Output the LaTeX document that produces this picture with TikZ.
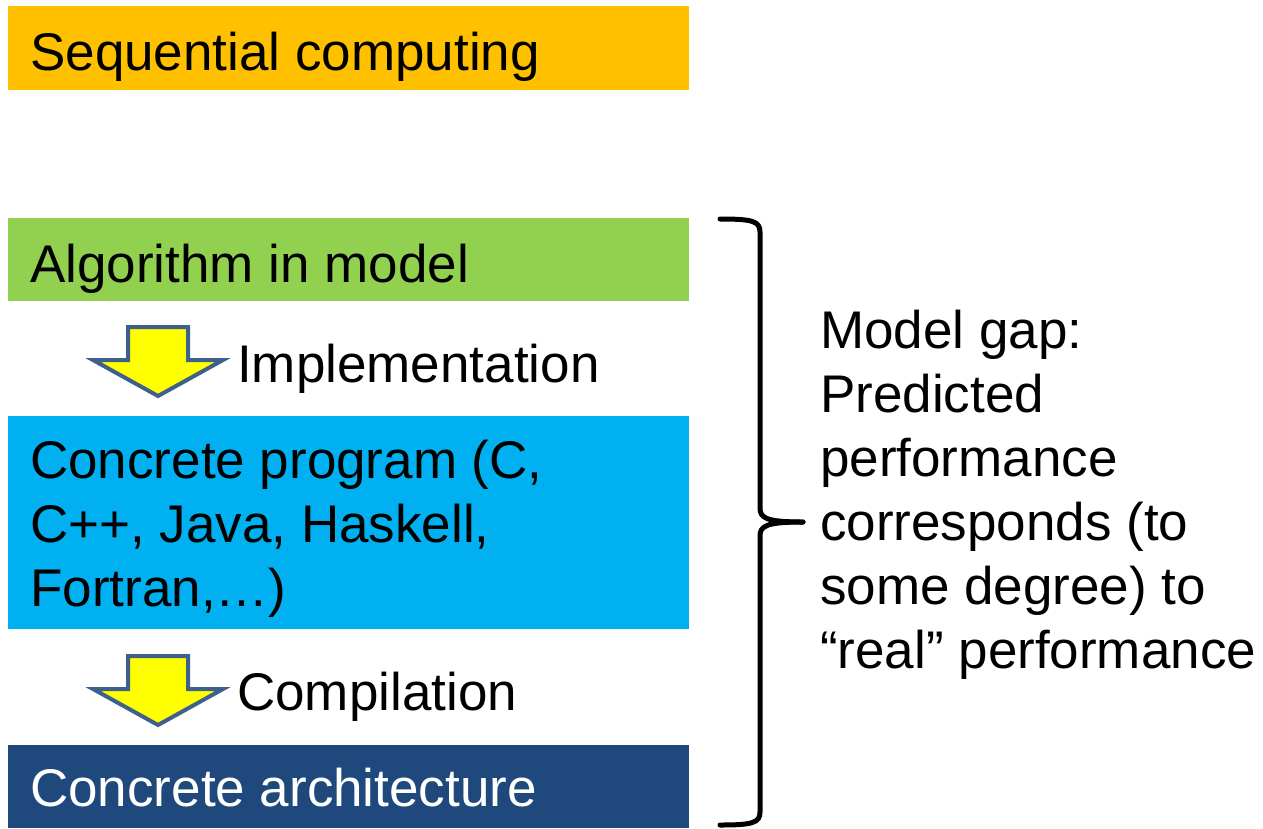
\documentclass[tikz,border=0pt]{standalone}
\usepackage{fontspec}
\setmainfont{Liberation Sans}
\definecolor{seqorange}{HTML}{FFC000}
\definecolor{algogreen}{HTML}{92D050}
\definecolor{progblue}{HTML}{00B0F0}
\definecolor{archblue}{HTML}{1F497D}
\definecolor{arrowedge}{HTML}{3F5F8C}
\definecolor{arrowfill}{HTML}{FFFF00}
\tikzset{
  box/.style={anchor=north west, inner sep=0pt, minimum width=681pt, draw=none},
  label/.style={anchor=base west, inner sep=0pt, font=\fontsize{53}{64}\selectfont, align=left},
  downarrow/.style={draw=arrowedge, fill=arrowfill, line width=4pt, line join=miter},
  bracestroke/.style={line width=5pt, line cap=round}
}
\begin{document}
\begin{tikzpicture}[x=1pt, y=-1pt]
  \useasboundingbox (0,0) rectangle (1263,828);
  % coloured bars
  \node[box, fill=seqorange, minimum height=84pt] (seqbox) at (8,6) {};
  \node[box, fill=algogreen, minimum height=83pt] (algobox) at (8,218) {};
  \node[box, fill=progblue, minimum height=213pt] (progbox) at (8,416) {};
  \node[box, fill=archblue, minimum height=83pt] (archbox) at (8,745) {};
  % bar texts (multi-line nodes are placed by their last baseline)
  \node[label] (seqtext) at (30,70) {Sequential computing};
  \node[label] (algotext) at (30,282) {Algorithm in model};
  \node[label] (progtext) at (30,606) {Concrete program (C,\\C++, Java, Haskell,\\Fortran,…)};
  \node[label, text=white] (archtext) at (30,806) {Concrete architecture};
  % block arrows between the levels
  \draw[downarrow] (128,327) -- (188,327) -- (188,360) -- (223,360) -- (158,396)
    -- (93,360) -- (128,360) -- cycle;
  \draw[downarrow] (128,656) -- (188,656) -- (188,689) -- (223,689) -- (158,725)
    -- (93,689) -- (128,689) -- cycle;
  \node[label] (impltext) at (237,382) {Implementation};
  \node[label] (compText) at (237,710) {Compilation};
  % right brace over the three lower levels
  \coordinate (bracetop) at (720,219);
  \coordinate (bracetip) at (803,522);
  \coordinate (bracebot) at (720,825);
  \draw[bracestroke] (bracetop) .. controls (752,219) and (760,221) .. (760,232)
    -- (760,508) .. controls (760,518) and (766,522) .. (bracetip);
  \draw[bracestroke] (bracetip) .. controls (766,522) and (760,526) .. (760,536)
    -- (760,812) .. controls (760,823) and (752,825) .. (bracebot);
  \node[label] (gaptext) at (820,668) {Model gap:\\Predicted\\performance\\corresponds (to\\some degree) to\\“real” performance};
\end{tikzpicture}
\end{document}
